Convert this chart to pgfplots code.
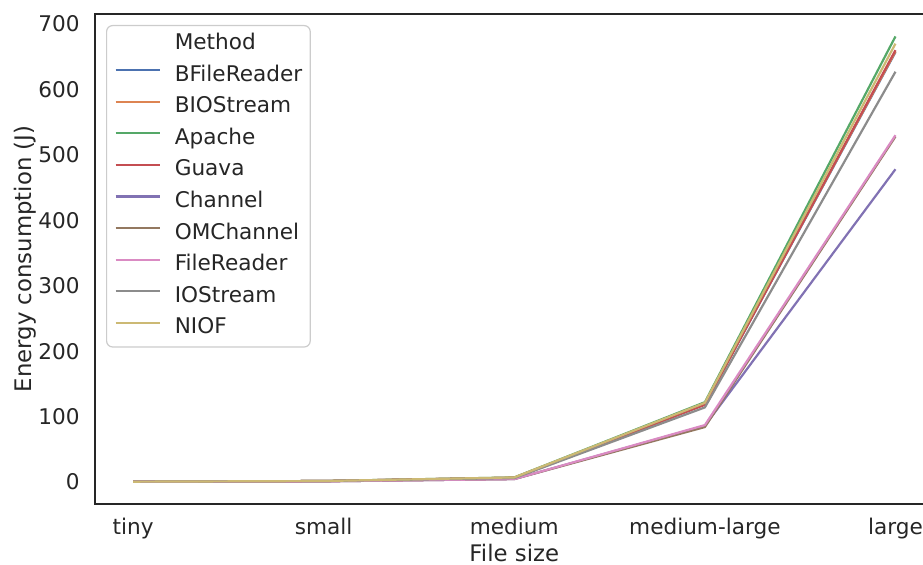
\documentclass[border=0pt]{standalone}
\usepackage{fontspec}
\setmainfont{DejaVu Sans}
\usepackage{pgfplots}
\pgfplotsset{compat=1.18}
\definecolor{c1}{HTML}{4C72B0}
\definecolor{c2}{HTML}{DD8452}
\definecolor{c3}{HTML}{55A868}
\definecolor{c4}{HTML}{C44E52}
\definecolor{c5}{HTML}{8172B3}
\definecolor{c6}{HTML}{937860}
\definecolor{c7}{HTML}{DA8BC3}
\definecolor{c8}{HTML}{8C8C8C}
\definecolor{c9}{HTML}{CCB974}
\definecolor{txt}{HTML}{262626}
\begin{document}
\begin{tikzpicture}
\useasboundingbox (0,0) rectangle (461.5pt,282.5pt);
\clip (0,0) rectangle (461.5pt,282.5pt);
\begin{axis}[
  at={(47.5pt,30.5pt)}, anchor=south west,
  scale only axis, width=419.3pt, height=245pt,
  xmin=-0.2, xmax=4.2, ymin=-33.6, ymax=715.3,
  xtick={0,1,2,3,4},
  xticklabels={tiny,small,medium,medium-large,large},
  ytick={0,100,200,300,400,500,600,700},
  major tick length=0pt,
  tick style={draw=none},
  axis line style={color=txt, line width=1pt},
  tick label style={font=\fontsize{10.8}{12}\selectfont, text=txt, inner sep=0pt},
  /pgf/number format/assume math mode=true,
  yticklabel shift=7.5pt,
  xticklabel style={text height=8pt, anchor=north},
  xticklabel shift=7pt,
  xlabel={File size}, ylabel={Energy consumption (J)},
  every axis x label/.style={at={(axis description cs:0.5,-0.1184)}, anchor=base,
    font=\fontsize{11.4}{13}\selectfont, text=txt, inner sep=0pt, text depth=0pt},
  every axis y label/.style={at={(axis description cs:-0.0763,0.5)}, anchor=base, rotate=90,
    font=\fontsize{11.4}{13}\selectfont, text=txt},
  no markers,
  every axis plot/.append style={line width=1.1pt, line join=round},
  legend cell align=left,
  legend style={at={(axis description cs:0.01312,0.97755)}, anchor=north west,
    draw=black!20, rounded corners=3pt, line width=0.6pt, fill=white,
    inner xsep=4pt, inner ysep=4pt, row sep=5.3pt, column sep=7pt,
    font=\fontsize{10.8}{12}\selectfont, text=txt,
    nodes={inner sep=0pt, text height=8pt, text depth=2.5pt}},
  legend image code/.code={\draw[#1, line width=1.1pt] (0pt,2.8pt) -- (22pt,2.8pt);},
]
\addlegendimage{empty legend}
\addlegendentry{Method}
\addplot[c1] coordinates {(0,0.5) (1,1.5) (2,6.5) (3,119) (4,657)};
\addlegendentry{BFileReader\hspace{1pt}}
\addplot[c2] coordinates {(0,0.5) (1,1.5) (2,6.5) (3,120) (4,658)};
\addlegendentry{BIOStream}
\addplot[c3] coordinates {(0,0.5) (1,1.5) (2,7) (3,122) (4,681)};
\addlegendentry{Apache}
\addplot[c4] coordinates {(0,0.5) (1,1.5) (2,6.5) (3,118) (4,660)};
\addlegendentry{Guava}
\addplot[c5] coordinates {(0,0.3) (1,1.0) (2,4.5) (3,86) (4,478)};
\addlegendentry{Channel}
\addplot[c6] coordinates {(0,0.3) (1,1.0) (2,4.5) (3,84) (4,528)};
\addlegendentry{OMChannel}
\addplot[c7] coordinates {(0,0.3) (1,1.0) (2,4.5) (3,87) (4,530)};
\addlegendentry{FileReader}
\addplot[c8] coordinates {(0,0.5) (1,1.5) (2,6) (3,114) (4,627)};
\addlegendentry{IOStream}
\addplot[c9] coordinates {(0,0.5) (1,1.5) (2,7) (3,121) (4,670)};
\addlegendentry{NIOF}
\end{axis}
\end{tikzpicture}
\end{document}
